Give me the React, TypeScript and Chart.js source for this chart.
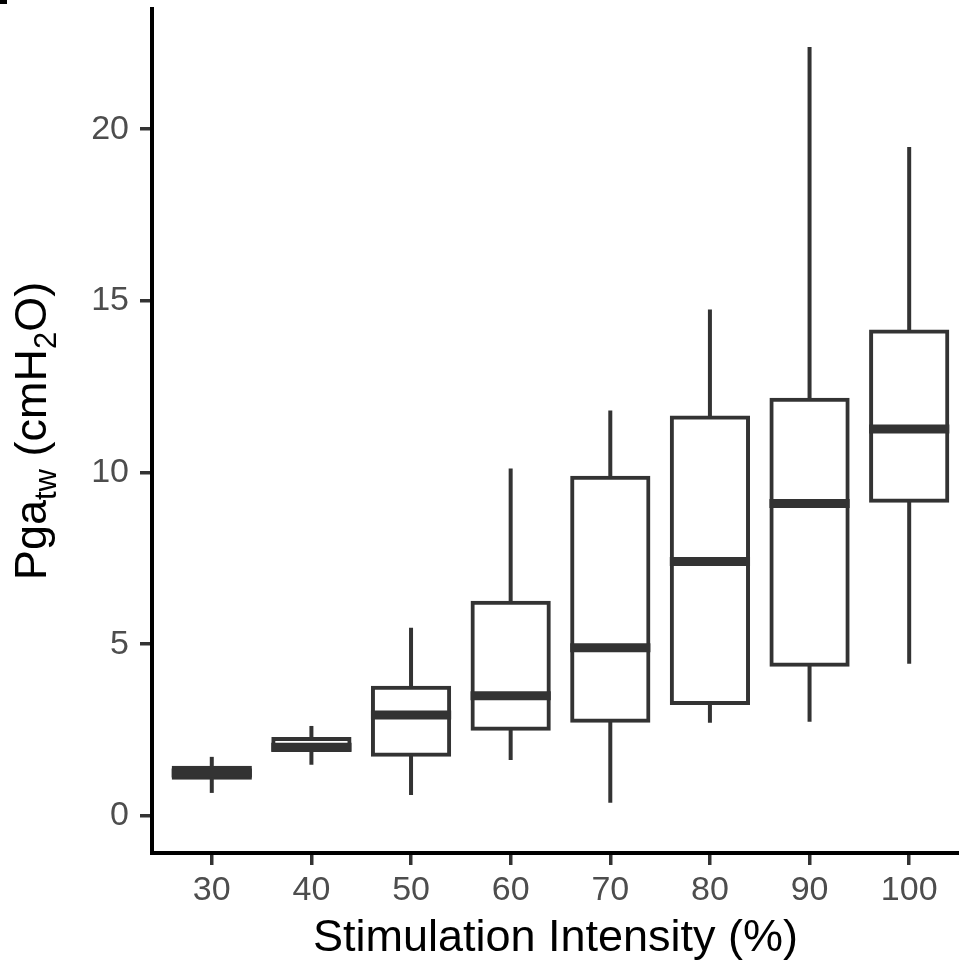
import React, { useEffect, useRef } from "react";
import { Chart, registerables } from "chart.js";

Chart.register(...registerables);

// ---- data ----
const categories = ["30", "40", "50", "60", "70", "80", "90", "100"];
const whiskerLow = [0.67, 1.49, 0.61, 1.63, 0.38, 2.71, 2.74, 4.43];
const q1 = [1.11, 1.92, 1.78, 2.54, 2.77, 3.29, 4.4, 9.18];
const median = [1.25, 2.0, 2.94, 3.5, 4.9, 7.41, 9.1, 11.27];
const q3 = [1.4, 2.24, 3.73, 6.21, 9.85, 11.6, 12.12, 14.11];
const whiskerHigh = [1.72, 2.62, 5.48, 10.12, 11.81, 14.75, 22.39, 19.48];
const yTicks = [0, 5, 10, 15, 20];

const xTitle = "Stimulation Intensity (%)";
const yTitleParts = [
  { text: "Pga", sub: false },
  { text: "tw", sub: true },
  { text: " (cmH", sub: false },
  { text: "2", sub: true },
  { text: "O)", sub: false },
];

const FONT = "'Liberation Sans', Arial, Helvetica, sans-serif";
const DARK = "#333333";
const BOX_LINE = 4;

const medianPlugin = {
  id: "medianLines",
  afterDatasetsDraw(chart: any) {
    const ctx = chart.ctx;
    const meta = chart.getDatasetMeta(0);
    const yScale = chart.scales.y;
    ctx.save();
    ctx.strokeStyle = DARK;
    ctx.lineWidth = 9;
    ctx.lineCap = "butt";
    meta.data.forEach((el: any, i: number) => {
      const half = el.width / 2 + BOX_LINE / 2;
      const y = yScale.getPixelForValue(median[i]);
      ctx.beginPath();
      ctx.moveTo(el.x - half, y);
      ctx.lineTo(el.x + half, y);
      ctx.stroke();
    });
    ctx.restore();
  },
};

const titlesPlugin = {
  id: "axisTitles",
  afterDraw(chart: any) {
    const ctx = chart.ctx;
    const area = chart.chartArea;
    ctx.save();
    ctx.fillStyle = "#000000";
    ctx.textBaseline = "alphabetic";
    // x title
    ctx.font = `45px ${FONT}`;
    ctx.textAlign = "center";
    ctx.fillText(xTitle, (area.left + area.right) / 2, 951);
    // y title with subscripts
    const mainSize = 45;
    const subSize = 31;
    const widths = yTitleParts.map((p) => {
      ctx.font = `${p.sub ? subSize : mainSize}px ${FONT}`;
      return ctx.measureText(p.text).width;
    });
    const total = widths.reduce((a, b) => a + b, 0);
    ctx.translate(46, (area.top + area.bottom) / 2);
    ctx.rotate(-Math.PI / 2);
    ctx.textAlign = "left";
    let x = -total / 2;
    yTitleParts.forEach((p, i) => {
      ctx.font = `${p.sub ? subSize : mainSize}px ${FONT}`;
      ctx.fillText(p.text, x, p.sub ? 10 : 0);
      x += widths[i];
    });
    ctx.restore();
  },
};

export default function App() {
  const ref = useRef<HTMLCanvasElement | null>(null);

  useEffect(() => {
    if (!ref.current) return;
    Chart.defaults.font.family = FONT;
    const boxData = categories.map((_, i) => ({ x: i, y: [q1[i], q3[i]] }));
    const whiskerData = categories.map((_, i) => ({ x: i, y: [whiskerLow[i], whiskerHigh[i]] }));

    const axisGrid = {
      display: true,
      offset: false,
      drawOnChartArea: false,
      drawTicks: true,
      tickLength: 12,
      color: DARK,
      lineWidth: 3.5,
    };

    const chart = new Chart(ref.current, {
      type: "bar",
      data: {
        datasets: [
          {
            label: "box",
            data: boxData as any,
            backgroundColor: "#ffffff",
            borderColor: DARK,
            borderWidth: BOX_LINE,
            borderSkipped: false,
            inflateAmount: BOX_LINE / 2,
            grouped: false,
            barPercentage: 0.765,
            categoryPercentage: 1,
          } as any,
          {
            label: "whisker",
            data: whiskerData as any,
            backgroundColor: DARK,
            borderWidth: 0,
            inflateAmount: 0,
            grouped: false,
            maxBarThickness: 4,
            barPercentage: 1,
            categoryPercentage: 1,
          } as any,
        ],
      },
      options: {
        responsive: false,
        animation: false,
        events: [],
        layout: { padding: { top: 9, right: 0, left: 0, bottom: 0 } },
        plugins: {
          legend: { display: false },
          tooltip: { enabled: false },
          title: { display: false },
        },
        scales: {
          x: {
            type: "linear",
            min: -0.6,
            max: 7.5,
            offset: false,
            grid: axisGrid as any,
            border: { display: true, color: "#000000", width: 4 },
            afterBuildTicks: (scale: any) => {
              scale.ticks = categories.map((_, i) => ({ value: i }));
            },
            afterFit: (scale: any) => {
              scale.height = 117;
              scale.paddingLeft = 0;
              scale.paddingRight = 0;
            },
            ticks: {
              autoSkip: false,
              maxRotation: 0,
              padding: 5,
              color: "#4d4d4d",
              font: { size: 34, family: FONT },
              callback: (v: any) => categories[Math.round(Number(v))] ?? "",
            },
          },
          y: {
            type: "linear",
            min: -1.08,
            max: 23.5,
            grid: axisGrid as any,
            border: { display: true, color: "#000000", width: 4 },
            afterBuildTicks: (scale: any) => {
              scale.ticks = yTicks.map((v) => ({ value: v }));
            },
            afterFit: (scale: any) => {
              scale.width = 152;
              scale.paddingTop = 0;
              scale.paddingBottom = 0;
            },
            ticks: {
              padding: 11,
              color: "#4d4d4d",
              font: { size: 34, family: FONT },
              callback: (v: any) => String(v),
            },
          },
        },
      },
      plugins: [medianPlugin, titlesPlugin],
    });
    return () => chart.destroy();
  }, []);

  return (
    <div style={{ position: "absolute", left: 0, top: 0, width: 959, height: 970, background: "#ffffff" }}>
      <div style={{ position: "absolute", left: 0, top: 0, width: 7, height: 4, background: "#000000" }} />
      <canvas ref={ref} width={959} height={970} style={{ display: "block" }} />
    </div>
  );
}
